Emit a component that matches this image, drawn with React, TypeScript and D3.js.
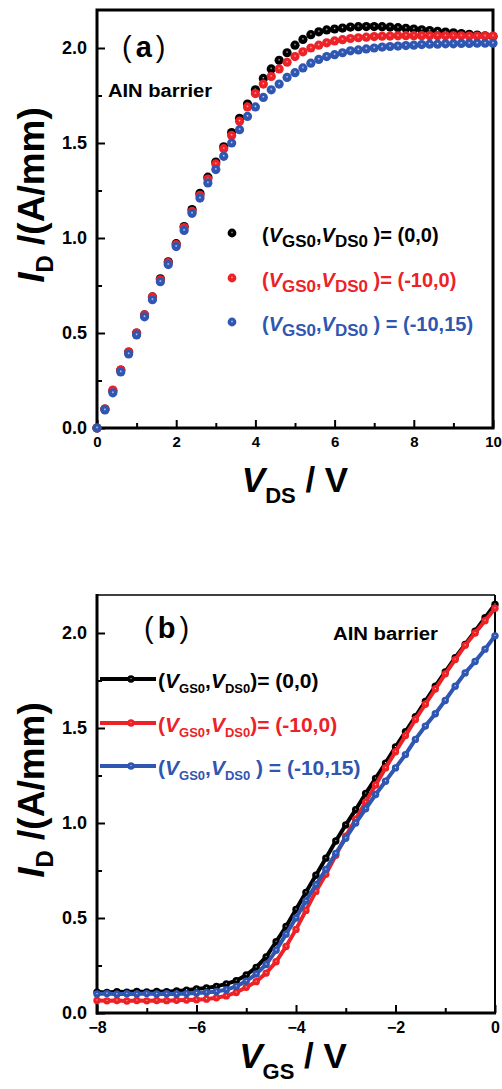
import { useEffect, useRef } from "react";
import * as d3 from "d3";

// ---- panel (a): output curves, I_D vs V_DS ----
const VDS = [0, 0.2, 0.4, 0.6, 0.8, 1, 1.2, 1.4, 1.6, 1.8, 2, 2.2, 2.4, 2.6, 2.8, 3, 3.2, 3.4, 3.6, 3.8, 4, 4.2, 4.4, 4.6, 4.8, 5, 5.2, 5.4, 5.6, 5.8, 6, 6.2, 6.4, 6.6, 6.8, 7, 7.2, 7.4, 7.6, 7.8, 8, 8.2, 8.4, 8.6, 8.8, 9, 9.2, 9.4, 9.6, 9.8, 10];
const ID_A_BLACK = [0, 0.1, 0.195, 0.305, 0.4, 0.5, 0.595, 0.69, 0.785, 0.875, 0.97, 1.06, 1.15, 1.235, 1.32, 1.4, 1.48, 1.555, 1.63, 1.705, 1.78, 1.84, 1.89, 1.935, 1.975, 2.015, 2.045, 2.07, 2.085, 2.095, 2.1, 2.105, 2.11, 2.112, 2.113, 2.113, 2.112, 2.11, 2.107, 2.104, 2.1, 2.096, 2.092, 2.088, 2.084, 2.08, 2.076, 2.072, 2.068, 2.064, 2.06];
const ID_A_RED = [0, 0.1, 0.2, 0.305, 0.4, 0.5, 0.595, 0.69, 0.78, 0.87, 0.965, 1.055, 1.14, 1.225, 1.31, 1.39, 1.47, 1.54, 1.615, 1.69, 1.76, 1.81, 1.85, 1.89, 1.925, 1.955, 1.98, 2.0, 2.015, 2.027, 2.037, 2.044, 2.05, 2.054, 2.057, 2.06, 2.062, 2.063, 2.064, 2.065, 2.065, 2.065, 2.065, 2.065, 2.064, 2.064, 2.064, 2.063, 2.063, 2.063, 2.063];
const ID_A_BLUE = [0, 0.095, 0.185, 0.295, 0.39, 0.49, 0.585, 0.675, 0.77, 0.86, 0.955, 1.04, 1.13, 1.21, 1.29, 1.36, 1.43, 1.5, 1.57, 1.64, 1.69, 1.74, 1.78, 1.81, 1.845, 1.87, 1.895, 1.92, 1.94, 1.955, 1.965, 1.975, 1.985, 1.99, 1.995, 2.0, 2.005, 2.008, 2.01, 2.013, 2.015, 2.018, 2.02, 2.02, 2.022, 2.022, 2.024, 2.024, 2.025, 2.025, 2.025];

// ---- panel (b): transfer curves, I_D vs V_GS ----
const VGS = [-8, -7.8, -7.6, -7.4, -7.2, -7, -6.8, -6.6, -6.4, -6.2, -6, -5.8, -5.6, -5.4, -5.2, -5, -4.8, -4.6, -4.4, -4.2, -4, -3.8, -3.6, -3.4, -3.2, -3, -2.8, -2.6, -2.4, -2.2, -2, -1.8, -1.6, -1.4, -1.2, -1, -0.8, -0.6, -0.4, -0.2, 0];
const ID_B_BLACK = [0.11, 0.108, 0.112, 0.11, 0.113, 0.111, 0.113, 0.112, 0.116, 0.12, 0.127, 0.132, 0.14, 0.153, 0.17, 0.2, 0.24, 0.295, 0.375, 0.455, 0.545, 0.635, 0.725, 0.815, 0.905, 0.99, 1.07, 1.155, 1.235, 1.315, 1.4, 1.48, 1.56, 1.64, 1.72, 1.795, 1.87, 1.94, 2.01, 2.08, 2.15];
const ID_B_RED = [0.066, 0.064, 0.066, 0.063, 0.066, 0.064, 0.066, 0.065, 0.067, 0.068, 0.07, 0.073, 0.08, 0.09, 0.108, 0.135, 0.165, 0.21, 0.27, 0.35, 0.44, 0.54, 0.64, 0.73, 0.83, 0.93, 1.02, 1.11, 1.2, 1.29, 1.375, 1.46, 1.545, 1.625, 1.705, 1.785, 1.86, 1.935, 2.0, 2.065, 2.13];
const ID_B_BLUE = [0.1, 0.102, 0.099, 0.101, 0.1, 0.102, 0.1, 0.101, 0.1, 0.102, 0.105, 0.108, 0.113, 0.123, 0.14, 0.168, 0.205, 0.255, 0.33, 0.415, 0.5, 0.59, 0.675, 0.755, 0.84, 0.92, 1.0, 1.075, 1.15, 1.22, 1.29, 1.36, 1.44, 1.51, 1.575, 1.645, 1.72, 1.79, 1.85, 1.915, 1.985];

const LEGEND_VALUES = ["= (0,0)", "= (-10,0)", " = (-10,15)"];
const Y_TICKS = [0, 0.5, 1.0, 1.5, 2.0];
const Y_MINOR = [0.25, 0.75, 1.25, 1.75];
const XA_TICKS = [0, 2, 4, 6, 8, 10];
const XA_MINOR = [1, 3, 5, 7, 9];
const XB_TICKS = [-8, -6, -4, -2, 0];
const XB_MINOR = [-7, -5, -3, -1];

const COLORS = ["#000000", "#ec2227", "#2f56b1"];
const LIGHT = ["#777777", "#ff8080", "#9fb4ec"];
const FONT = "'Liberation Sans', Arial, sans-serif";

export default function App() {
  const svgRef = useRef<SVGSVGElement>(null);

  useEffect(() => {
    if (!svgRef.current) return;
    const svg = d3.select(svgRef.current);
    svg.selectAll("*").remove();
    svg.attr("font-family", FONT).attr("font-weight", "bold");

    // sphere-like marker gradients, small highlight
    const defs = svg.append("defs");
    COLORS.forEach((c, i) => {
      const gr = defs
        .append("radialGradient")
        .attr("id", `ball${i}`)
        .attr("cx", "50%")
        .attr("cy", "50%")
        .attr("r", "55%")
        .attr("fx", "50%")
        .attr("fy", "42%");
      gr.append("stop").attr("offset", "0%").attr("stop-color", "#f4f4f4");
      gr.append("stop").attr("offset", "8%").attr("stop-color", LIGHT[i]);
      gr.append("stop").attr("offset", "28%").attr("stop-color", c);
      gr.append("stop").attr("offset", "100%").attr("stop-color", c);
    });

    const styleAxis = (ax: any, size: number) => {
      ax.select(".domain").remove();
      ax.selectAll("line").attr("stroke", "#000").attr("stroke-width", 2);
      ax.selectAll("text").attr("fill", "#000").attr("font-size", size).attr("font-family", FONT);
    };

    // subscripted legend label: "(V_GS0,V_DS0 )= ..."
    const legendText = (
      g: any, x: number, y: number, color: string, rest: string, main: number, sub: number, shift: number, gap: string
    ) => {
      const t = g.append("text").attr("x", x).attr("y", y).attr("fill", color).attr("font-size", main);
      t.append("tspan").text("(");
      t.append("tspan").attr("font-style", "italic").text("V");
      t.append("tspan").attr("font-size", sub).attr("dy", shift).text("GS0");
      t.append("tspan").attr("dy", -shift).text(",");
      t.append("tspan").attr("font-style", "italic").text("V");
      t.append("tspan").attr("font-size", sub).attr("dy", shift).text("DS0");
      t.append("tspan").attr("dy", -shift).text(gap + ")" + rest);
      return t;
    };

    const yTitle = (cx: number, cy: number) => {
      const t = svg
        .append("text")
        .attr("transform", `translate(${cx},${cy}) rotate(-90)`)
        .attr("text-anchor", "middle")
        .attr("font-size", 37)
        .attr("fill", "#000");
      t.append("tspan").attr("font-style", "italic").text("I");
      t.append("tspan").attr("font-size", 24).attr("dy", 9).text("D");
      t.append("tspan").attr("dy", -9).text(" /(A/mm)");
    };

    const xTitle = (cx: number, by: number, sub: string) => {
      const t = svg
        .append("text")
        .attr("x", cx)
        .attr("y", by)
        .attr("text-anchor", "middle")
        .attr("font-size", 35)
        .attr("fill", "#000");
      t.append("tspan").attr("font-style", "italic").text("V");
      t.append("tspan").attr("font-size", 22).attr("dy", 11).text(sub);
      t.append("tspan").attr("dy", -11).text(" / V");
    };

    // ================= panel (a) =================
    {
      const x = d3.scaleLinear().domain([0, 10]).range([97, 493]);
      const y = d3.scaleLinear().domain([0, 2.2]).range([428, 10]);
      const g = svg.append("g");

      g.append("g")
        .attr("transform", "translate(97,0)")
        .call(d3.axisLeft(y).tickValues(Y_TICKS).tickFormat(d3.format(".1f")).tickSize(-8).tickPadding(10))
        .call((ax: any) => styleAxis(ax, 18));
      g.append("g")
        .attr("transform", "translate(97,0)")
        .call(d3.axisLeft(y).tickValues(Y_MINOR).tickFormat(() => "").tickSize(-5))
        .call((ax: any) => styleAxis(ax, 18));
      g.append("g")
        .attr("transform", "translate(0,428)")
        .call(d3.axisBottom(x).tickValues(XA_TICKS).tickSize(-8).tickPadding(8))
        .call((ax: any) => styleAxis(ax, 15));
      g.append("g")
        .attr("transform", "translate(0,428)")
        .call(d3.axisBottom(x).tickValues(XA_MINOR).tickFormat(() => "").tickSize(-5))
        .call((ax: any) => styleAxis(ax, 15));

      g.append("rect")
        .attr("x", 97)
        .attr("y", 10)
        .attr("width", 396)
        .attr("height", 418)
        .attr("fill", "none")
        .attr("stroke", "#000")
        .attr("stroke-width", 3);

      [ID_A_BLACK, ID_A_RED, ID_A_BLUE].forEach((vals, i) => {
        g.append("g")
          .selectAll("circle")
          .data(VDS.map((v, k) => [v, vals[k]]))
          .join("circle")
          .attr("cx", (d) => x(d[0]))
          .attr("cy", (d) => y(d[1]))
          .attr("r", 4.6)
          .attr("fill", `url(#ball${i})`);
      });

      // panel label and annotation
      const lab = g.append("text").attr("x", 122).attr("y", 57).attr("font-size", 29).attr("fill", "#000");
      lab.append("tspan").attr("font-weight", "normal").text("(");
      lab.append("tspan").attr("dx", 4).text("a");
      lab.append("tspan").attr("dx", 4).attr("font-weight", "normal").text(")");
      g.append("text")
        .attr("x", 108)
        .attr("y", 97)
        .attr("font-size", 18)
        .attr("textLength", 104)
        .attr("lengthAdjust", "spacingAndGlyphs")
        .attr("fill", "#000")
        .text("AIN barrier");

      // legend
      const rows = [242, 287, 331];
      rows.forEach((ry, i) => {
        g.append("circle").attr("cx", 232).attr("cy", ry - 9).attr("r", 4.4).attr("fill", `url(#ball${i})`);
        legendText(g, 262, ry, COLORS[i], LEGEND_VALUES[i], 20, 17, 5, " ");
      });

      yTitle(44, 195);
      xTitle(295, 492, "DS");
    }

    // ================= panel (b) =================
    {
      const x = d3.scaleLinear().domain([-8, 0]).range([97, 495]);
      const y = d3.scaleLinear().domain([0, 2.2]).range([1013, 595]);
      const g = svg.append("g");

      g.append("g")
        .attr("transform", "translate(97,0)")
        .call(d3.axisLeft(y).tickValues(Y_TICKS).tickFormat(d3.format(".1f")).tickSize(-8).tickPadding(10))
        .call((ax: any) => styleAxis(ax, 18));
      g.append("g")
        .attr("transform", "translate(97,0)")
        .call(d3.axisLeft(y).tickValues(Y_MINOR).tickFormat(() => "").tickSize(-5))
        .call((ax: any) => styleAxis(ax, 18));
      g.append("g")
        .attr("transform", "translate(0,1013)")
        .call(d3.axisBottom(x).tickValues(XB_TICKS).tickFormat(d3.format("d")).tickSize(-8).tickPadding(9))
        .call((ax: any) => styleAxis(ax, 16));
      g.append("g")
        .attr("transform", "translate(0,1013)")
        .call(d3.axisBottom(x).tickValues(XB_MINOR).tickFormat(() => "").tickSize(-5))
        .call((ax: any) => styleAxis(ax, 16));

      // frame: thin top/right, thick left/bottom
      g.append("line").attr("x1", 97).attr("x2", 495).attr("y1", 595).attr("y2", 595).attr("stroke", "#000").attr("stroke-width", 1.5);
      g.append("line").attr("x1", 495).attr("x2", 495).attr("y1", 595).attr("y2", 1013).attr("stroke", "#000").attr("stroke-width", 2);
      g.append("line").attr("x1", 97).attr("x2", 97).attr("y1", 594).attr("y2", 1014.5).attr("stroke", "#000").attr("stroke-width", 3);
      g.append("line").attr("x1", 96).attr("x2", 496).attr("y1", 1013).attr("y2", 1013).attr("stroke", "#000").attr("stroke-width", 3);

      const line = d3
        .line<number[]>()
        .x((d) => x(d[0]))
        .y((d) => y(d[1]));

      [ID_B_BLACK, ID_B_RED, ID_B_BLUE].forEach((vals, i) => {
        const pts = VGS.map((v, k) => [v, vals[k]]);
        g.append("path").attr("d", line(pts)).attr("fill", "none").attr("stroke", COLORS[i]).attr("stroke-width", 4);
        g.append("g")
          .selectAll("circle")
          .data(pts)
          .join("circle")
          .attr("cx", (d) => x(d[0]))
          .attr("cy", (d) => y(d[1]))
          .attr("r", 3.7)
          .attr("fill", `url(#ball${i})`);
      });

      const lab = g.append("text").attr("x", 144).attr("y", 638).attr("font-size", 29).attr("fill", "#000");
      lab.append("tspan").attr("font-weight", "normal").text("(");
      lab.append("tspan").attr("dx", 4).text("b");
      lab.append("tspan").attr("dx", 4).attr("font-weight", "normal").text(")");
      g.append("text")
        .attr("x", 333)
        .attr("y", 640)
        .attr("font-size", 18)
        .attr("textLength", 105)
        .attr("lengthAdjust", "spacingAndGlyphs")
        .attr("fill", "#000")
        .text("AIN barrier");

      const rows = [679, 723, 766];
      rows.forEach((ry, i) => {
        g.append("line").attr("x1", 100).attr("x2", 156).attr("y1", ry).attr("y2", ry).attr("stroke", COLORS[i]).attr("stroke-width", 4);
        g.append("circle").attr("cx", 131).attr("cy", ry).attr("r", 3.7).attr("fill", `url(#ball${i})`);
        legendText(g, 158, ry + 9, COLORS[i], LEGEND_VALUES[i], 21, 13, 5, i === 2 ? " " : "");
      });

      yTitle(44, 790);
      xTitle(293, 1068, "GS");
    }
  }, []);

  return (
    <div style={{ position: "absolute", left: 0, top: 0 }}>
      <svg ref={svgRef} width={502} height={1089} style={{ display: "block", background: "#fff" }} />
    </div>
  );
}
